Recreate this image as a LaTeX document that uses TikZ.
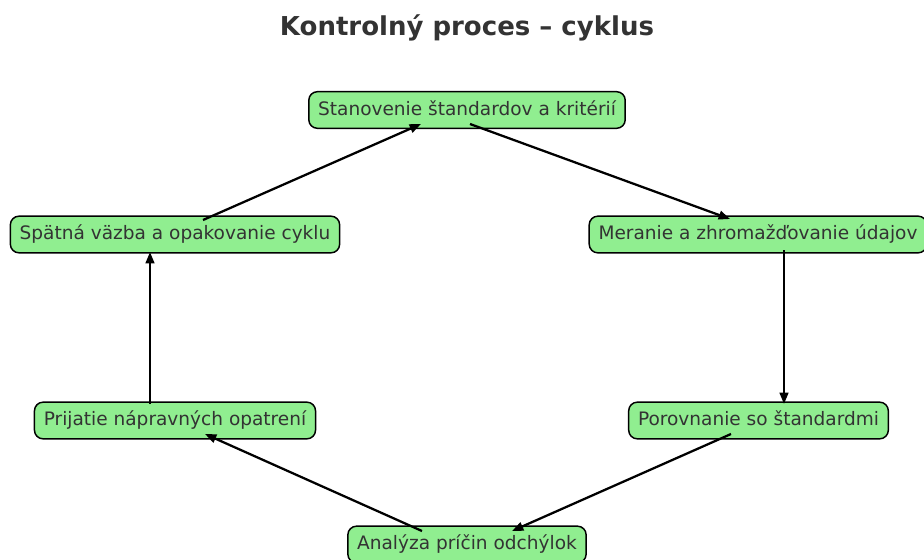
\documentclass[tikz,border=0pt]{standalone}
\usepackage{fontspec}
\setmainfont{DejaVu Sans}
\usetikzlibrary{arrows.meta,calc}
\definecolor{boxgreen}{HTML}{90EE90}
\definecolor{txtgray}{HTML}{333333}
\tikzset{
  stepbox/.style={draw=black, line width=1.1pt, fill=boxgreen, rounded corners=6.5pt,
    text=txtgray, font=\fontsize{13.9pt}{16pt}\selectfont, inner xsep=7pt,
    minimum height=27.5pt, text height=10.5pt, text depth=3pt},
  flow/.style={line width=1.7pt, -{Triangle[length=8.5pt,width=6.5pt]}},
  titletext/.style={text=txtgray, font=\fontsize{19.5pt}{22pt}\selectfont\bfseries}
}
\begin{document}
\begin{tikzpicture}[x=0.75pt,y=-0.75pt]
\useasboundingbox[fill=white] (0,0) rectangle (924,560);
\node[titletext] (title) at (467,28) {Kontrolný proces – cyklus};
\node[stepbox] (t)  at (467,110)   {Stanovenie štandardov a kritérií};
\node[stepbox] (r)  at (758,234.5) {Meranie a zhromažďovanie údajov};
\node[stepbox] (rl) at (758.5,420.5) {Porovnanie so štandardmi};
\node[stepbox] (b)  at (467,544.5) {Analýza príčin odchýlok};
\node[stepbox] (ll) at (175,420.5) {Prijatie nápravných opatrení};
\node[stepbox] (lu) at (175,234.5) {Spätná väzba a opakovanie cyklu};
\draw[flow] ($(t)+(3,14)$) -- ($(r)+(-28,-15.5)$);
\draw[flow] ($(r)+(26,15.5)$) -- ($(rl)+(25.5,-16.5)$);
\draw[flow] ($(rl)+(-27.5,13.5)$) -- ($(b)+(45,-13.5)$);
\draw[flow] ($(b)+(-45,-13.5)$) -- ($(ll)+(30,13.5)$);
\draw[flow] ($(ll)+(-25,-16.5)$) -- ($(lu)+(-25,17.5)$);
\draw[flow] ($(lu)+(28,-14.5)$) -- ($(t)+(-46,14)$);
\end{tikzpicture}
\end{document}
